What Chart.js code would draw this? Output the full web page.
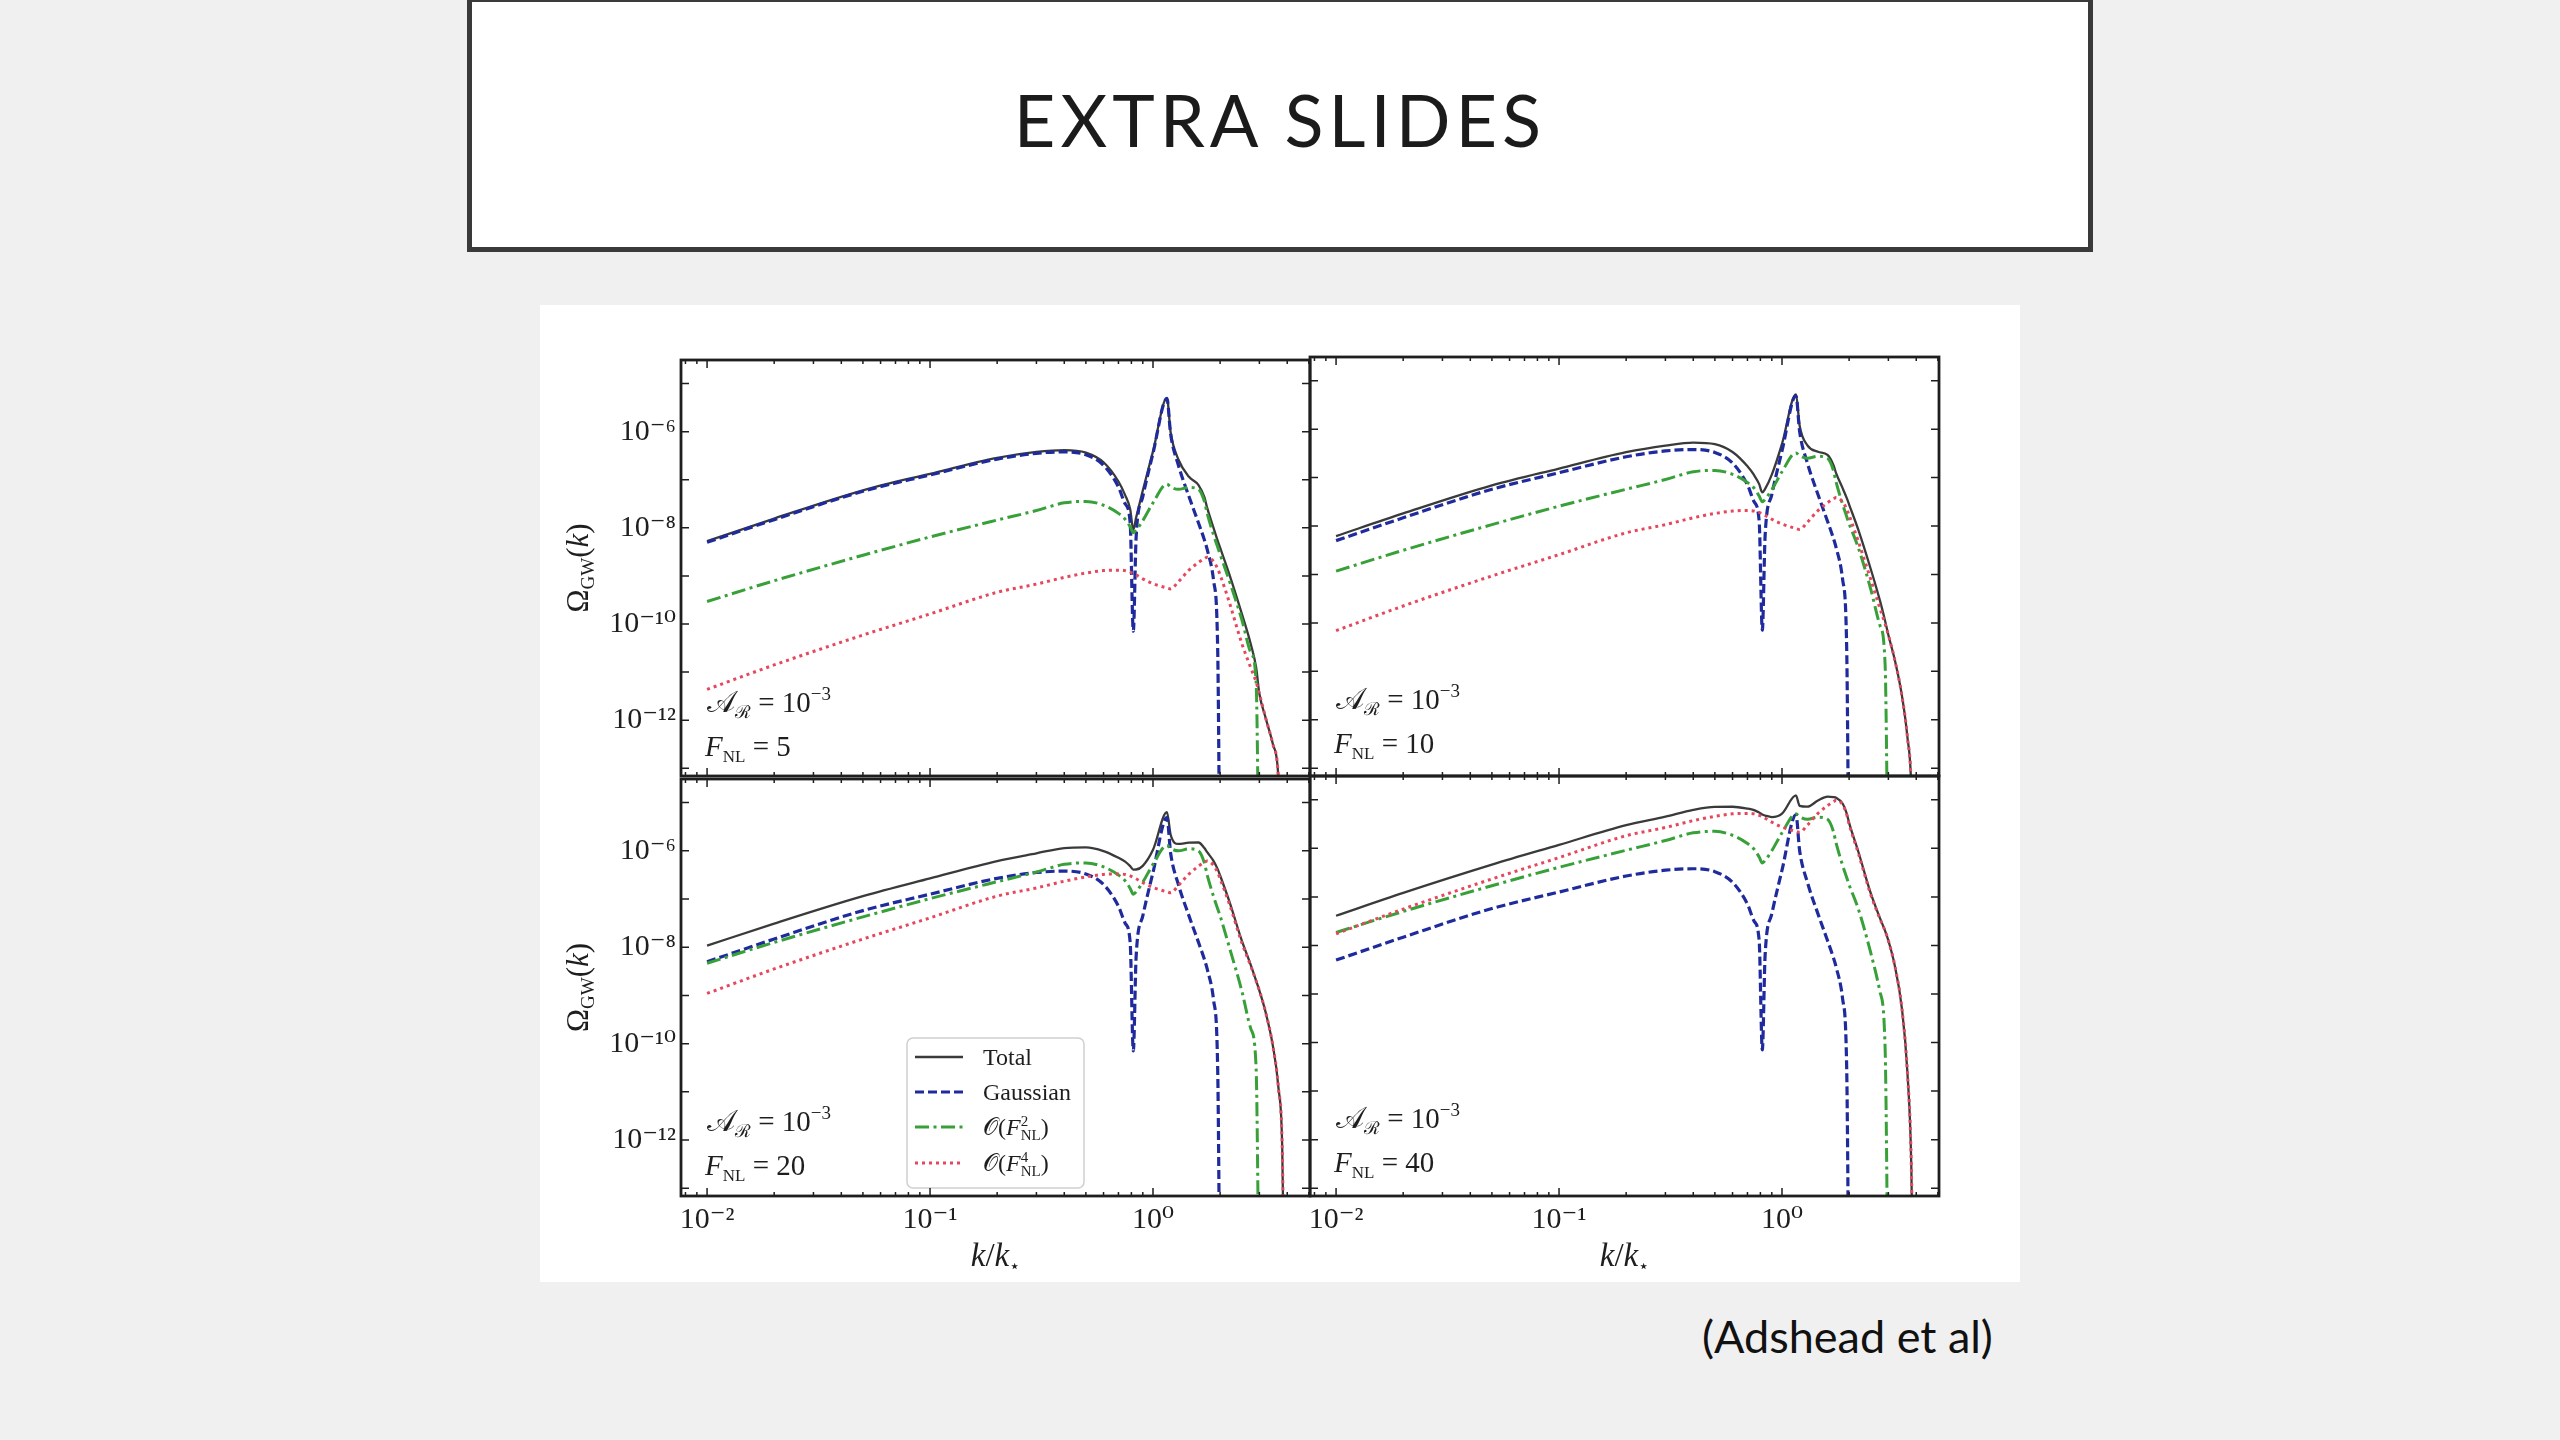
<!DOCTYPE html>
<html>
<head>
<meta charset="UTF-8">
<title>Extra slides</title>
<script src="https://cdn.jsdelivr.net/npm/chart.js@4.4.1/dist/chart.umd.min.js"></script>
<style>
  html, body { margin: 0; padding: 0; }
  body { width: 2560px; height: 1440px; background: #f0f0f0; position: relative; overflow: hidden; font-family: Lato, sans-serif; }
  #titlebox { position: absolute; left: 467px; top: -3px; width: 1626px; height: 255px; box-sizing: border-box; border: 5px solid #3a3a3a; background: #fff; }
  #title { position: absolute; left: 0; right: 0; top: 81px; text-align: center; font-size: 72px; line-height: 72px; letter-spacing: 5px; color: #1b1b1b; }
  #figure { position: absolute; left: 540px; top: 305px; width: 1480px; height: 977px; background: #fff; }
  #cite { position: absolute; left: 1702px; top: 1314px; font-size: 45px; line-height: 45px; color: #111; }
  canvas { position: absolute; }
</style>
</head>
<body>
<div id="titlebox"><div id="title">EXTRA SLIDES</div></div>
<div id="figure"></div>
<div id="cite">(Adshead et al)</div>

<script>
// k / k_*  (shared sample points)
const kValues = [0.01, 0.02, 0.05, 0.1, 0.2, 0.3, 0.4, 0.5, 0.6, 0.7, 0.75, 0.79, 0.816, 0.84, 0.9, 1.0,
  1.155, 1.2, 1.3, 1.45, 1.6, 1.7, 1.75, 1.87, 1.95, 2.0, 2.2, 2.5, 2.75, 2.9, 3.0, 3.2, 3.45, 3.65, 3.8, 3.9];

// Gaussian part, same in every panel (drops to zero at k = 2k*)
const gaussian = [5.0e-9, 1.48e-8, 5.75e-8, 1.26e-7, 2.69e-7, 3.55e-7, 3.8e-7, 3.31e-7, 2.0e-7, 7.08e-8, 3.16e-8,
  1.26e-8, 7.08e-11, 6.31e-9, 4.47e-8, 3.55e-7, 4.9e-6, 8.91e-7, 2.0e-7, 4.47e-8, 1.26e-8, 5.62e-9, 3.55e-9,
  7.94e-10, 3.16e-11, 1e-16];

// F_NL = 5
const totalF5 = [5.3e-9, 1.56e-8, 6.03e-8, 1.33e-7, 2.84e-7, 3.79e-7, 4.14e-7, 3.68e-7, 2.31e-7, 9.21e-8, 4.8e-8,
  2.43e-8, 9.13e-9, 1.63e-8, 5.97e-8, 3.89e-7, 4.98e-6, 9.62e-7, 2.64e-7, 1.15e-7, 7.76e-8, 4.34e-8, 2.6e-8,
  9.87e-9, 5.42e-9, 3.87e-9, 1.08e-9, 1.66e-10, 3.71e-11, 1.26e-11, 3.55e-12, 1.12e-12, 3.16e-13, 6.31e-14, 1e-16];
const f2F5 = [2.94e-10, 7.94e-10, 2.69e-9, 6.46e-9, 1.45e-8, 2.29e-8, 3.31e-8, 3.55e-8, 2.95e-8, 2.0e-8, 1.51e-8,
  1.05e-8, 7.94e-9, 8.91e-9, 1.41e-8, 3.31e-8, 8.13e-8, 7.08e-8, 6.31e-8, 6.92e-8, 6.31e-8, 3.55e-8, 2.0e-8,
  7.08e-9, 3.98e-9, 2.82e-9, 7.94e-10, 1.26e-10, 2.51e-11, 6.31e-12, 1e-16];
const f4F5 = [4.37e-12, 1.41e-11, 5.89e-11, 1.62e-10, 4.57e-10, 6.76e-10, 9.33e-10, 1.15e-9, 1.29e-9, 1.32e-9,
  1.29e-9, 1.2e-9, 1.12e-9, 1.05e-9, 8.71e-10, 6.92e-10, 5.62e-10, 5.37e-10, 7.59e-10, 1.32e-9, 1.91e-9, 2.29e-9,
  2.45e-9, 2.0e-9, 1.41e-9, 1.05e-9, 2.82e-10, 3.98e-11, 1.2e-11, 6.31e-12, 3.55e-12, 1.12e-12, 3.16e-13, 6.31e-14, 1e-16];

// F_NL = 10
const totalF10 = [6.2e-9, 1.82e-8, 6.91e-8, 1.54e-7, 3.34e-7, 4.57e-7, 5.27e-7, 4.9e-7, 3.37e-7, 1.71e-7, 1.12e-7,
  7.34e-8, 4.95e-8, 5.84e-8, 1.15e-7, 4.98e-7, 5.23e-6, 1.18e-6, 4.63e-7, 3.41e-7, 2.94e-7, 1.83e-7, 1.22e-7,
  6.06e-8, 3.82e-8, 2.78e-8, 8.34e-9, 1.3e-9, 2.89e-10, 1.1e-10, 5.62e-11, 1.78e-11, 3.16e-12, 4.47e-13, 3.98e-14, 1e-16];
const f2F10 = [1.17e-9, 3.16e-9, 1.07e-8, 2.57e-8, 5.75e-8, 9.12e-8, 1.32e-7, 1.41e-7, 1.17e-7, 7.94e-8, 6.03e-8,
  4.17e-8, 3.16e-8, 3.55e-8, 5.62e-8, 1.32e-7, 3.24e-7, 2.82e-7, 2.51e-7, 2.75e-7, 2.51e-7, 1.41e-7, 7.94e-8,
  2.82e-8, 1.58e-8, 1.12e-8, 3.55e-9, 5.01e-10, 8.91e-11, 1.41e-11, 1e-16];
const f4F10 = [6.92e-11, 2.24e-10, 9.33e-10, 2.57e-9, 7.24e-9, 1.07e-8, 1.48e-8, 1.82e-8, 2.04e-8, 2.09e-8, 2.04e-8,
  1.91e-8, 1.78e-8, 1.66e-8, 1.38e-8, 1.1e-8, 8.91e-9, 8.51e-9, 1.2e-8, 2.09e-8, 3.02e-8, 3.63e-8, 3.89e-8,
  3.16e-8, 2.24e-8, 1.66e-8, 4.79e-9, 7.94e-10, 2.0e-10, 9.55e-11, 5.62e-11, 1.78e-11, 3.16e-12, 4.47e-13, 3.98e-14, 1e-16];

// F_NL = 20
const totalF20 = [1.08e-8, 3.1e-8, 1.15e-7, 2.69e-7, 6.13e-7, 8.88e-7, 1.14e-6, 1.18e-6, 9.9e-7, 7.18e-7, 5.96e-7,
  4.81e-7, 4.08e-7, 4.1e-7, 4.88e-7, 1.05e-6, 6.33e-6, 2.15e-6, 1.39e-6, 1.48e-6, 1.49e-6, 1.14e-6, 9.37e-7,
  6.14e-7, 4.18e-7, 3.08e-7, 8.94e-8, 1.39e-8, 4.18e-9, 2.03e-9, 1.26e-9, 4.47e-10, 8.91e-11, 1.26e-11, 6.31e-13, 1e-16];
const f2F20 = [4.66e-9, 1.26e-8, 4.26e-8, 1.02e-7, 2.29e-7, 3.63e-7, 5.25e-7, 5.62e-7, 4.66e-7, 3.16e-7, 2.4e-7,
  1.66e-7, 1.26e-7, 1.41e-7, 2.24e-7, 5.25e-7, 1.29e-6, 1.12e-6, 1.0e-6, 1.1e-6, 1.0e-6, 5.62e-7, 3.16e-7,
  1.12e-7, 6.31e-8, 4.47e-8, 1.0e-8, 1.26e-9, 2.0e-10, 3.16e-11, 1e-16];
const f4F20 = [1.1e-9, 3.55e-9, 1.48e-8, 4.07e-8, 1.15e-7, 1.7e-7, 2.34e-7, 2.88e-7, 3.24e-7, 3.31e-7, 3.24e-7,
  3.02e-7, 2.82e-7, 2.63e-7, 2.19e-7, 1.74e-7, 1.41e-7, 1.35e-7, 1.91e-7, 3.31e-7, 4.79e-7, 5.75e-7, 6.17e-7,
  5.01e-7, 3.55e-7, 2.63e-7, 7.94e-8, 1.26e-8, 3.98e-9, 2.0e-9, 1.26e-9, 4.47e-10, 8.91e-11, 1.26e-11, 6.31e-13, 1e-16];

// F_NL = 40
const totalF40 = [4.09e-8, 1.21e-7, 4.62e-7, 1.18e-6, 3.0e-6, 4.5e-6, 6.19e-6, 7.14e-6, 7.19e-6, 6.58e-6, 6.12e-6,
  5.46e-6, 4.97e-6, 4.74e-6, 4.41e-6, 5.2e-6, 1.23e-5, 7.5e-6, 7.2e-6, 9.66e-6, 1.16e-5, 1.14e-5, 1.1e-5,
  8.39e-6, 5.26e-6, 3.34e-6, 8.5e-7, 1.19e-7, 3.66e-8, 2.0e-8, 1.26e-8, 3.98e-9, 5.01e-10, 2.51e-11, 3.16e-13, 1e-16];
const f2F40 = [1.85e-8, 5.01e-8, 1.7e-7, 4.07e-7, 9.12e-7, 1.45e-6, 2.09e-6, 2.24e-6, 1.86e-6, 1.26e-6, 9.55e-7,
  6.61e-7, 5.01e-7, 5.62e-7, 8.91e-7, 2.09e-6, 5.13e-6, 4.47e-6, 3.98e-6, 4.37e-6, 3.98e-6, 2.24e-6, 1.26e-6,
  4.47e-7, 2.51e-7, 1.78e-7, 5.62e-8, 7.08e-9, 1.12e-9, 7.94e-11, 1e-16];
const f4F40 = [1.74e-8, 5.62e-8, 2.34e-7, 6.46e-7, 1.82e-6, 2.69e-6, 3.72e-6, 4.57e-6, 5.13e-6, 5.25e-6, 5.13e-6,
  4.79e-6, 4.47e-6, 4.17e-6, 3.47e-6, 2.75e-6, 2.24e-6, 2.14e-6, 3.02e-6, 5.25e-6, 7.59e-6, 9.12e-6, 9.77e-6,
  7.94e-6, 5.01e-6, 3.16e-6, 7.94e-7, 1.12e-7, 3.55e-8, 2.0e-8, 1.26e-8, 3.98e-9, 5.01e-10, 2.51e-11, 3.16e-13, 1e-16];

// axis ticks
const xLabelTicks = [0.01, 0.1, 1];
const xMinorTicks = [0.008, 0.009, 0.02, 0.03, 0.04, 0.05, 0.06, 0.07, 0.08, 0.09,
  0.2, 0.3, 0.4, 0.5, 0.6, 0.7, 0.8, 0.9, 2, 3, 4, 5];
const yLabelTicks = [1e-12, 1e-10, 1e-8, 1e-6];
const yDecadeTicks = [1e-13, 1e-12, 1e-11, 1e-10, 1e-9, 1e-8, 1e-7, 1e-6, 1e-5];

const X_MIN = 0.00764, X_MAX = 5.06;
const Y_MIN = 6.92e-14, Y_MAX = 3.09e-5;

const SERIF = '"Liberation Serif", "DejaVu Serif", serif';
const rm = s => s + 'px ' + SERIF;
const it = s => 'italic ' + s + 'px ' + SERIF;
const INK = '#1e1e1e';
const COLORS = { total: '#3a3a3a', gauss: '#1f2b9c', f2: '#38a038', f4: '#e5475c' };

const SUP = { '-': '\u207B', '0': '\u2070', '1': '\u00B9', '2': '\u00B2', '3': '\u00B3', '4': '\u2074',
  '5': '\u2075', '6': '\u2076', '7': '\u2077', '8': '\u2078', '9': '\u2079' };
function powLabel(v) {
  const e = Math.round(Math.log10(v));
  return '10' + String(e).split('').map(c => SUP[c]).join('');
}

function drawRuns(ctx, x, y, parts) {
  let cx = x;
  parts.forEach(p => {
    ctx.font = p.f;
    ctx.fillText(p.t, cx, y + (p.dy || 0));
    if (!p.stack) cx += ctx.measureText(p.t).width;
  });
  return cx - x;
}
function runsWidth(ctx, parts) {
  let w = 0;
  parts.forEach(p => { ctx.font = p.f; if (!p.stack) w += ctx.measureText(p.t).width; });
  return w;
}

const panelDecor = {
  id: 'panelDecor',
  afterDatasetsDraw(chart, args, opts) {
    const ctx = chart.ctx, a = chart.chartArea;
    const xs = chart.scales.x, ys = chart.scales.y;
    ctx.save();
    ctx.fillStyle = INK;
    ctx.textAlign = 'left';
    ctx.textBaseline = 'alphabetic';

    drawRuns(ctx, a.left + 26, a.top + 352, [
      { t: '\uD835\uDC9C', f: rm(30) }, { t: '\u211B', f: rm(18), dy: 6 },
      { t: ' = 10', f: rm(29) }, { t: '\u22123', f: rm(19), dy: -12 }]);
    drawRuns(ctx, a.left + 24, a.top + 396, [
      { t: 'F', f: it(29) }, { t: 'NL', f: rm(17), dy: 6 }, { t: ' = ' + opts.fnl, f: rm(29) }]);

    if (opts.yTitle) {
      const parts = [{ t: '\u03A9', f: rm(31) }, { t: 'GW', f: rm(19), dy: 6 }, { t: '(', f: rm(31) },
        { t: 'k', f: it(31) }, { t: ')', f: rm(31) }];
      const w = runsWidth(ctx, parts);
      ctx.save();
      ctx.translate(a.left - 93, (a.top + a.bottom) / 2);
      ctx.rotate(-Math.PI / 2);
      drawRuns(ctx, -w / 2, 0, parts);
      ctx.restore();
    }
    if (opts.xTitle) {
      const parts = [{ t: 'k', f: it(33) }, { t: '/', f: rm(33) }, { t: 'k', f: it(33) }, { t: '\u22C6', f: rm(18), dy: 6 }];
      const w = runsWidth(ctx, parts);
      drawRuns(ctx, (a.left + a.right) / 2 - w / 2, a.bottom + 70, parts);
    }
    if (opts.legend) {
      const bx = a.left + 226, by = a.top + 259, bw = 177, bh = 150;
      ctx.beginPath();
      ctx.roundRect(bx, by, bw, bh, 6);
      ctx.fillStyle = 'rgba(255,255,255,0.85)';
      ctx.fill();
      ctx.strokeStyle = '#cfcfcf';
      ctx.lineWidth = 1.5;
      ctx.stroke();
      const rows = [
        { label: 'Total', parts: [{ t: 'Total', f: rm(24) }] },
        { label: 'Gaussian', parts: [{ t: 'Gaussian', f: rm(24) }] },
        { label: 'F2', parts: [{ t: '\uD835\uDCAA(', f: rm(24) }, { t: 'F', f: it(24) }, { t: '2', f: rm(15), dy: -9, stack: true },
          { t: 'NL', f: rm(15), dy: 5 }, { t: ')', f: rm(24) }] },
        { label: 'F4', parts: [{ t: '\uD835\uDCAA(', f: rm(24) }, { t: 'F', f: it(24) }, { t: '4', f: rm(15), dy: -9, stack: true },
          { t: 'NL', f: rm(15), dy: 5 }, { t: ')', f: rm(24) }] }
      ];
      const rowY = [278, 313, 348, 384];
      rows.forEach((r, i) => {
        const ds = chart.data.datasets.find(d => d.label === r.label);
        const yy = a.top + rowY[i];
        ctx.save();
        ctx.strokeStyle = ds.borderColor;
        ctx.lineWidth = ds.borderWidth;
        ctx.setLineDash(ds.borderDash || []);
        ctx.beginPath();
        ctx.moveTo(a.left + 234, yy);
        ctx.lineTo(a.left + 282, yy);
        ctx.stroke();
        ctx.restore();
        ctx.fillStyle = INK;
        drawRuns(ctx, a.left + 302, yy + 8, r.parts);
      });
    }

    // frame with inward ticks on all four sides
    ctx.strokeStyle = INK;
    ctx.setLineDash([]);
    ctx.lineWidth = 1.5;
    ctx.beginPath();
    const xTick = (v, len) => {
      const px = xs.getPixelForValue(v);
      ctx.moveTo(px, a.bottom); ctx.lineTo(px, a.bottom - len);
      ctx.moveTo(px, a.top); ctx.lineTo(px, a.top + len);
    };
    xMinorTicks.forEach(v => xTick(v, 4));
    xLabelTicks.forEach(v => xTick(v, 8));
    yDecadeTicks.forEach(v => {
      const py = ys.getPixelForValue(v);
      ctx.moveTo(a.left, py); ctx.lineTo(a.left + 8, py);
      ctx.moveTo(a.right, py); ctx.lineTo(a.right - 8, py);
    });
    ctx.stroke();
    ctx.lineWidth = 2.8;
    ctx.strokeRect(a.left, a.top, a.width, a.height);
    ctx.restore();
  }
};

const panels = [
  { fnl: 5, total: totalF5, f2: f2F5, f4: f4F5, left: 681, top: 357, h: 419, xLab: false, yLab: true },
  { fnl: 10, total: totalF10, f2: f2F10, f4: f4F10, left: 1310, top: 357, h: 419, xLab: false, yLab: false },
  { fnl: 20, total: totalF20, f2: f2F20, f4: f4F20, left: 681, top: 776, h: 420, xLab: true, yLab: true, legend: true },
  { fnl: 40, total: totalF40, f2: f2F40, f4: f4F40, left: 1310, top: 776, h: 420, xLab: true, yLab: false }
];

const PAD_L = 150, PAD_T = 20, PAD_R = 20, PAD_B = 90, PANEL_W = 629;

function points(values) {
  const out = [];
  values.forEach((v, i) => { if (v != null) out.push({ x: kValues[i], y: v }); });
  return out;
}

panels.forEach(p => {
  const canvas = document.createElement('canvas');
  canvas.width = PANEL_W + PAD_L + PAD_R;
  canvas.height = p.h + PAD_T + PAD_B;
  canvas.style.left = (p.left - PAD_L) + 'px';
  canvas.style.top = (p.top - PAD_T) + 'px';
  document.body.appendChild(canvas);

  new Chart(canvas.getContext('2d'), {
    type: 'line',
    data: {
      datasets: [
        { label: 'F4', data: points(p.f4), borderColor: COLORS.f4, borderWidth: 3, borderDash: [3, 4] },
        { label: 'F2', data: points(p.f2), borderColor: COLORS.f2, borderWidth: 3, borderDash: [14, 4.5, 3, 4.5] },
        { label: 'Gaussian', data: points(gaussian), borderColor: COLORS.gauss, borderWidth: 3.2, borderDash: [9, 4] },
        { label: 'Total', data: points(p.total), borderColor: COLORS.total, borderWidth: 2.3 }
      ]
    },
    options: {
      responsive: false,
      animation: false,
      layout: { padding: { top: PAD_T, right: PAD_R, left: 0, bottom: 0 } },
      elements: {
        point: { radius: 0 },
        line: { cubicInterpolationMode: 'monotone', fill: false }
      },
      datasets: { line: { clip: 0, spanGaps: false } },
      plugins: {
        legend: { display: false },
        tooltip: { enabled: false },
        panelDecor: { fnl: p.fnl, yTitle: p.yLab, xTitle: p.xLab, legend: !!p.legend }
      },
      scales: {
        x: {
          type: 'logarithmic', bounds: 'data', min: X_MIN, max: X_MAX,
          grid: { display: false, drawTicks: false },
          border: { display: false },
          afterBuildTicks: s => { s.ticks = xLabelTicks.map(v => ({ value: v })); },
          afterFit: s => { s.height = PAD_B; },
          ticks: {
            display: p.xLab, autoSkip: false, maxRotation: 0, padding: 6, color: INK,
            font: { family: SERIF, size: 30 }, callback: v => powLabel(v)
          }
        },
        y: {
          type: 'logarithmic', bounds: 'data', min: Y_MIN, max: Y_MAX,
          grid: { display: false, drawTicks: false },
          border: { display: false },
          afterBuildTicks: s => { s.ticks = yLabelTicks.map(v => ({ value: v })); },
          afterFit: s => { s.width = PAD_L; },
          ticks: {
            display: p.yLab, autoSkip: false, padding: 5, color: INK,
            font: { family: SERIF, size: 30 }, callback: v => powLabel(v)
          }
        }
      }
    },
    plugins: [panelDecor]
  });
});
</script>
</body>
</html>
